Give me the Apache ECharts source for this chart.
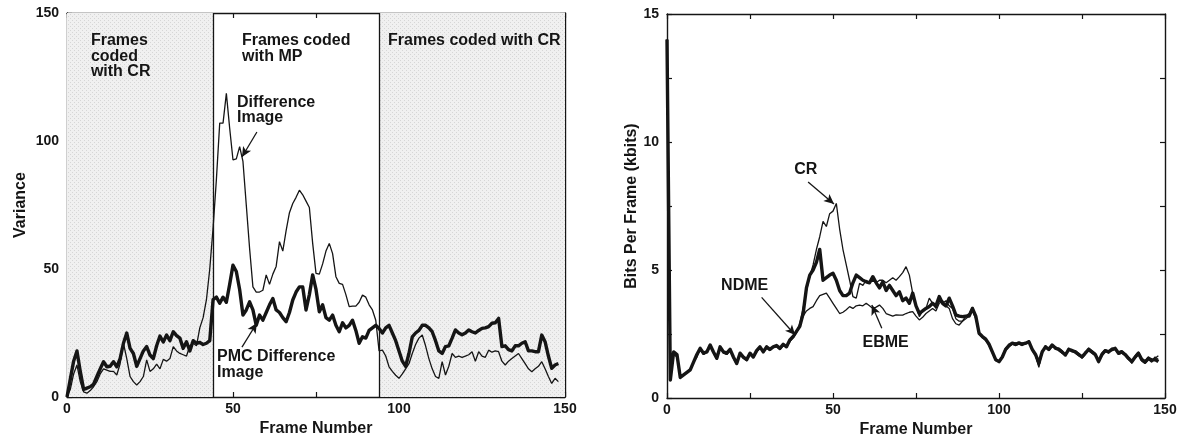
<!DOCTYPE html>
<html>
<head>
<meta charset="utf-8">
<script src="https://cdn.jsdelivr.net/npm/echarts@6/dist/echarts.min.js"></script>
<style>
  html, body { margin: 0; padding: 0; background: #fff; }
  #chart { width: 1193px; height: 445px; }
</style>
</head>
<body>
<div id="chart"></div>
<script>
// ---- Variance per frame (frame number = array index) ----
const diffImage = [0,3,9,12.5,6,2,1.5,2.5,4,6,9,11,10.5,10,10,8.6,13,21,15,8,6,4.7,6,8,14.5,10,11,12.8,11,14.7,14,15,19.7,18,17,16.5,16,20,21,20,
  27,31,38,50,66,85,107,107,118.6,105,92.6,93,97.8,92,75,58,43,41,41,41.7,47.7,44,48,51,60.7,57,65,72,75.6,78,80.8,79,76.5,74,60,48.3,48,52,57,60,
  56,47,44.4,44,40,35.3,35.5,35.5,37,39.8,39,36,34,30,18,18.3,16,11.8,10,8.5,7.3,9,11,13,17,20.5,23,24.2,20,15,11,8,7.3,13.8,8.6,12,17,15.5,16,15.5,
  16,16.5,17.7,14,17.7,16,15.5,18.3,17.5,18,17.7,14,12.5,14,15,16,17,15,13,11,9.9,11,12,13.8,11,8,5.3,7.3,6];
const pmcDiffImage = [0,7,14,18,10,3,3.5,4,5,8,11,13.8,11.8,12,13.8,11.8,15,21,25,19,17,12,15,18,19.7,16.4,15,20,23.8,21.5,24.2,22,25.5,24,23,19,21.6,18,22,21,
  21.3,20.5,21,22,38,39,36.6,39,37,44,51.5,49,42,32,34,37.2,34,28,32,30,33,36,38.5,34,33,31,29.4,33,37.9,41,43,43,34,40,47.7,42,33.3,36,31,30,
  32,28,25.5,29,27,28,30,26,21,23.5,23,26,27,28,26.8,25,27,28,25,22,18,14,12,17,23.5,25,26,28,28,27,25.5,22,18,17,19.7,20,23,26.2,25,24.3,
  25,26.2,25.5,25,26,26.8,27,27.5,28.8,29,30.7,19.7,20,18.5,18,20,20,21,21.6,18,18,17.7,17.7,24.2,21.6,16,11.2,12.5,13.1];

// ---- Bits per frame (kbits), frame number = array index ----
const ndme = [14,0.7,1.8,1.7,0.8,0.9,1.0,1.1,1.4,1.7,1.94,1.75,1.8,2.07,1.8,1.55,2.0,1.8,1.75,1.9,1.6,1.35,1.75,1.6,1.5,1.75,1.6,1.85,2.0,1.8,
  2.0,1.9,2.0,2.05,1.94,2.1,2.0,2.27,2.4,2.6,2.8,3.3,4.3,4.8,5.0,5.3,5.8,4.6,4.7,4.8,4.87,4.6,4.2,4.0,4.0,4.1,4.5,4.8,4.7,4.6,
  4.54,4.5,4.74,4.5,4.3,4.54,4.2,4.4,4.2,4.0,4.15,3.8,3.9,3.7,4.1,3.6,3.3,3.4,3.5,3.57,3.7,3.6,3.96,3.7,3.6,3.9,3.6,3.25,3.2,3.18,
  3.2,3.2,3.5,3.2,2.53,2.4,2.3,2.1,1.8,1.5,1.42,1.6,1.9,2.05,2.14,2.1,2.15,2.1,2.14,2.2,1.9,1.7,1.36,1.8,2.0,1.9,2.07,1.95,1.9,1.8,
  1.68,1.9,1.85,1.8,1.7,1.61,1.75,1.9,1.8,1.7,1.42,1.7,1.85,1.8,1.9,1.94,1.75,1.8,1.7,1.55,1.42,1.6,1.75,1.5,1.4,1.55,1.48,1.5,1.42];
const cr = [14,0.7,1.7,1.6,0.8,0.9,1.0,1.1,1.4,1.6,1.9,1.7,1.85,2.0,1.75,1.5,1.95,1.8,1.7,1.85,1.55,1.3,1.7,1.55,1.5,1.7,1.6,1.8,1.95,1.8,
  1.95,1.9,2.0,2.0,1.9,2.05,2.0,2.2,2.4,2.6,2.9,3.5,4.2,4.74,5.2,5.8,6.3,6.9,6.7,7.2,7.3,7.6,6.6,5.8,5.2,4.6,3.96,3.9,4.48,4.4,
  4.6,4.5,4.6,4.5,4.6,4.6,4.5,4.6,4.7,4.6,4.74,4.9,5.13,4.8,4.1,3.6,3.18,3.4,3.5,3.9,3.7,3.5,3.8,3.7,3.8,3.6,3.5,3.1,3.0,3.0,
  3.2,3.3,3.55,3.2,2.5,2.35,2.25,2.05,1.75,1.5,1.4,1.65,1.95,2.1,2.1,2.05,2.1,2.15,2.1,2.25,1.85,1.65,1.25,1.75,2.05,1.85,2.0,2.0,1.85,1.75,
  1.7,1.85,1.9,1.75,1.65,1.6,1.8,1.85,1.75,1.65,1.45,1.65,1.8,1.85,1.85,1.9,1.7,1.75,1.65,1.5,1.4,1.55,1.7,1.45,1.35,1.5,1.4,1.55,1.65];
const ebme = [14,0.7,1.75,1.65,0.8,0.9,1.0,1.15,1.4,1.65,1.9,1.7,1.8,2.0,1.8,1.5,1.95,1.75,1.7,1.9,1.55,1.35,1.7,1.6,1.45,1.7,1.6,1.8,1.95,1.8,
  1.95,1.85,2.0,2.0,1.9,2.05,2.0,2.2,2.35,2.55,2.8,3.2,3.4,3.5,3.57,3.8,4.0,4.05,4.1,3.9,3.7,3.5,3.3,3.35,3.45,3.57,3.5,3.6,3.63,3.6,
  3.7,3.6,3.5,3.55,3.63,3.5,3.3,3.25,3.2,3.25,3.24,3.24,3.3,3.35,3.37,3.2,3.05,3.15,3.3,3.4,3.5,3.4,3.7,3.8,3.6,3.5,3.1,2.9,2.85,3.0,
  3.1,3.2,3.4,3.1,2.5,2.4,2.25,2.1,1.8,1.45,1.45,1.6,1.85,2.0,2.1,2.15,2.1,2.05,2.15,2.15,1.95,1.7,1.2,1.85,1.95,1.95,2.1,1.9,1.95,1.85,
  1.65,1.95,1.8,1.85,1.75,1.55,1.7,1.95,1.85,1.75,1.4,1.75,1.9,1.75,1.95,1.9,1.8,1.85,1.7,1.6,1.35,1.65,1.8,1.55,1.45,1.6,1.45,1.6,1.5];

// ---- Axis ranges and ticks ----
const frameTicks = { min: 0, max: 150, step: 25, labelEvery: 50 };
const varianceTicks = { min: 0, max: 150, step: 25, labelEvery: 50 };
const bitsTicks = { min: 0, max: 15, step: 2.5, labelEvery: 5 };

// ---- Coding-mode regions (frame ranges) and dividers ----
const crRegions = [[0, 44], [94, 150]];
const modeDividers = [44, 94];

// ---- Text annotations: [text, frame, value] of the block's top-left corner ----
const leftNotes = [
  ['Frames\ncoded\nwith CR', 7.2, 142.2],
  ['Frames coded\nwith MP', 52.7, 142.2],
  ['Frames coded with CR', 96.7, 142.2],
  ['Difference\nImage', 51.2, 118.2],
  ['PMC Difference\nImage', 45.2, 18.7]
];
const rightNotes = [
  ['CR', 38.3, 9.24],
  ['NDME', 16.3, 4.71],
  ['EBME', 58.9, 2.47]
];
// Leader arrows: [fromFrame, fromValue, toFrame, toValue]
const leftArrows = [[57.2, 103.5, 52.7, 93.75], [52.7, 19.5, 57.2, 28.9]];
const rightArrows = [[42.5, 8.44, 50.3, 7.58], [28.5, 3.93, 38.6, 2.46], [64.7, 2.72, 61.7, 3.63]];

const FONT = "'Liberation Sans', Arial, Helvetica, sans-serif";
const INK = '#151515';

// stippled grey fill for the CR-coded frame ranges
function stipple() {
  const c = document.createElement('canvas');
  c.width = 4; c.height = 4;
  const g = c.getContext('2d');
  g.fillStyle = '#f0f0f0'; g.fillRect(0, 0, 4, 4);
  g.fillStyle = '#d6d6d6';
  g.fillRect(0, 0, 1, 1); g.fillRect(2, 2, 1, 1);
  return c;
}

function pairs(arr) { return arr.map((v, i) => [i, v]); }

function xAxisDef(grid, pos, withLabels) {
  return {
    type: 'value', gridIndex: grid, position: pos,
    min: frameTicks.min, max: frameTicks.max, interval: frameTicks.step,
    axisLine: { show: true, onZero: false, lineStyle: { color: INK, width: 1.4 } },
    axisTick: { show: true, inside: true, length: 5, lineStyle: { color: INK, width: 1.2 } },
    axisLabel: {
      show: withLabels, margin: 5, color: INK, fontSize: 14, fontWeight: 'bold', fontFamily: FONT,
      formatter: v => (v % frameTicks.labelEvery === 0 ? String(v) : '')
    },
    splitLine: { show: false },
    name: withLabels ? 'Frame Number' : '', nameLocation: 'middle', nameGap: 21,
    nameTextStyle: { color: INK, fontSize: 16, fontWeight: 'bold', fontFamily: FONT }
  };
}

function yAxisDef(grid, pos, ticks, name, gap) {
  const withLabels = !!name;
  return {
    type: 'value', gridIndex: grid, position: pos,
    min: ticks.min, max: ticks.max, interval: ticks.step,
    axisLine: { show: true, onZero: false, lineStyle: { color: INK, width: 1.4 } },
    axisTick: { show: true, inside: true, length: 5, lineStyle: { color: INK, width: 1.2 } },
    axisLabel: {
      show: withLabels, margin: 8, color: INK, fontSize: 14, fontWeight: 'bold', fontFamily: FONT,
      formatter: v => (v % ticks.labelEvery === 0 ? String(v) : '')
    },
    splitLine: { show: false },
    name: name || '', nameLocation: 'middle', nameGap: gap || 0, nameRotate: 90,
    nameTextStyle: { color: INK, fontSize: 16, fontWeight: 'bold', fontFamily: FONT }
  };
}

function arrowLines(list) {
  return list.map(a => [{ coord: [a[0], a[1]] }, { coord: [a[2], a[3]] }]);
}

const chart = echarts.init(document.getElementById('chart'), null, { renderer: 'canvas' });

chart.setOption({
  animation: false,
  backgroundColor: '#ffffff',
  grid: [
    { left: 67, top: 13, width: 498, height: 384 },
    { left: 667, top: 14, width: 498, height: 384 }
  ],
  xAxis: [
    xAxisDef(0, 'bottom', true), xAxisDef(0, 'top', false),
    xAxisDef(1, 'bottom', true), xAxisDef(1, 'top', false)
  ],
  yAxis: [
    yAxisDef(0, 'left', varianceTicks, 'Variance', 38), yAxisDef(0, 'right', varianceTicks, null),
    yAxisDef(1, 'left', bitsTicks, 'Bits Per Frame (kbits)', 22), yAxisDef(1, 'right', bitsTicks, null)
  ],
  series: [
    {
      // shaded CR ranges and mode dividers
      type: 'line', xAxisIndex: 0, yAxisIndex: 0, data: [], z: 1, silent: true,
      markArea: {
        silent: true,
        itemStyle: { color: { image: stipple(), repeat: 'repeat' } },
        data: crRegions.map(r => [{ xAxis: r[0] }, { xAxis: r[1] }])
      },
      markLine: {
        silent: true, symbol: 'none', label: { show: false },
        lineStyle: { type: 'solid', color: INK, width: 1.3 },
        data: modeDividers.map(x => ({ xAxis: x }))
      }
    },
    {
      name: 'Difference Image', type: 'line', xAxisIndex: 0, yAxisIndex: 0, z: 3,
      data: pairs(diffImage), showSymbol: false, symbol: 'none',
      lineStyle: { color: INK, width: 1.3 },
      markLine: {
        silent: true, symbol: ['none', 'arrow'], symbolSize: [7, 10], label: { show: false },
        lineStyle: { type: 'solid', color: INK, width: 1.3 },
        data: arrowLines(leftArrows)
      }
    },
    {
      name: 'PMC Difference Image', type: 'line', xAxisIndex: 0, yAxisIndex: 0, z: 4,
      data: pairs(pmcDiffImage), showSymbol: false, symbol: 'none',
      lineStyle: { color: INK, width: 3.4, join: 'round' }
    },
    {
      name: 'CR', type: 'line', xAxisIndex: 2, yAxisIndex: 2, z: 3,
      data: pairs(cr), showSymbol: false, symbol: 'none',
      lineStyle: { color: INK, width: 1.3 },
      markLine: {
        silent: true, symbol: ['none', 'arrow'], symbolSize: [7, 10], label: { show: false },
        lineStyle: { type: 'solid', color: INK, width: 1.3 },
        data: arrowLines(rightArrows)
      }
    },
    {
      name: 'EBME', type: 'line', xAxisIndex: 2, yAxisIndex: 2, z: 3,
      data: pairs(ebme), showSymbol: false, symbol: 'none',
      lineStyle: { color: INK, width: 1.3 }
    },
    {
      name: 'NDME', type: 'line', xAxisIndex: 2, yAxisIndex: 2, z: 4,
      data: pairs(ndme), showSymbol: false, symbol: 'none',
      lineStyle: { color: INK, width: 3.4, join: 'round' }
    }
  ]
});

// place annotation text in data coordinates
function noteGraphics(notes, gridIndex) {
  return notes.map(n => {
    const p = chart.convertToPixel({ gridIndex: gridIndex }, [n[1], n[2]]);
    return {
      type: 'text', x: p[0], y: p[1], z: 10, silent: true,
      style: {
        text: n[0], fill: INK, fontSize: 16, fontWeight: 'bold', fontFamily: FONT,
        lineHeight: 15.5, align: 'left', verticalAlign: 'top'
      }
    };
  });
}

chart.setOption({
  graphic: noteGraphics(leftNotes, 0).concat(noteGraphics(rightNotes, 1))
});
</script>
</body>
</html>
